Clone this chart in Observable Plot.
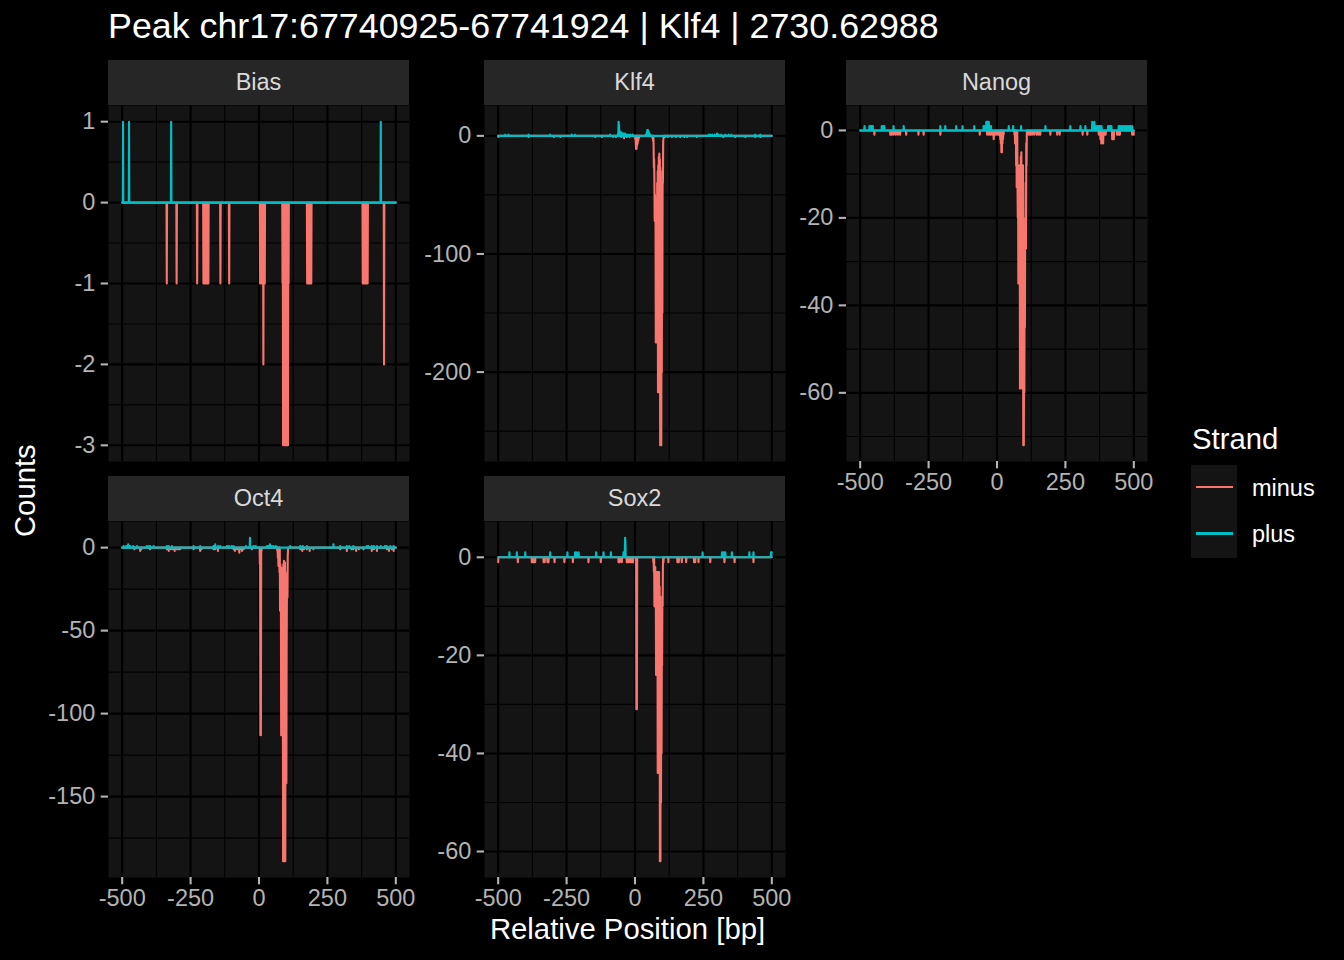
<!DOCTYPE html>
<html>
<head>
<meta charset="utf-8">
<script src="https://cdn.jsdelivr.net/npm/d3@7"></script>
<script src="https://cdn.jsdelivr.net/npm/@observablehq/plot@0.6"></script>
<style>
  html, body { margin: 0; padding: 0; background: #000; }
  #root { position: relative; width: 1344px; height: 960px; background: #000; overflow: hidden;
          font-family: "Liberation Sans", Arial, sans-serif; }
  .abs { position: absolute; white-space: nowrap; }
  .strip { position: absolute; background: #262626; color: #D9D9D9; font-size: 23.5px;
           display: flex; align-items: center; justify-content: center; }
  #root svg { position: absolute; overflow: visible; }
</style>
</head>
<body>
<div id="root"></div>
<script>
// ---------------- data (position in bp relative to peak, count) ----------------
const strands = ["minus", "plus"];
const strandColors = ["#F8766D", "#00BFC4"];
const xTicks = [-500, -250, 0, 250, 500];
const xMinorTicks = [-375, -125, 125, 375];
const bpRange = [-500, 500];

const biasPlus = [[-497,1],[-475,1],[-321,1],[445,1]];
const biasMinus = [[-337,-1],[-301,-1],[-226,-1],[-203,-1],[-200,-1],[-197,-1],[-194,-1],[-191,-1],[-188,-1],[-185,-1],
  [-141,-1],[-109,-1],[4,-1],[7,-1],[10,-1],[13,-1],[16,-2],[19,-1],[21,-1],
  [86,-1],[88,-3],[90,-3],[92,-3],[94,-3],[96,-3],[98,-3],[100,-3],[102,-3],[104,-3],[106,-3],[108,-1],
  [176,-1],[179,-1],[182,-1],[185,-1],[188,-1],[191,-1],
  [379,-1],[382,-1],[385,-1],[388,-1],[391,-1],[394,-1],[397,-1],[457,-2]];
const biasYTicks = [-3, -2, -1, 0, 1];
const biasYMinor = [-2.5, -1.5, -0.5, 0.5];

const klf4Plus = [[-474,1],[-462,1],[-389,1],[-310,1],[-231,1],[-219,1],[-91,1],[-62,2],[-60,12],[-59,9],[-58,7],
  [-56,4],[-54,3],[-52,2],[-50,3],[-48,2],[-45,2],[-42,2],[-39,1],[-36,2],[-32,1],[-28,1],[-22,1],[-16,1],[-8,1],
  [40,1],[43,3],[45,5],[47,5],[49,4],[51,3],[53,2],[56,1],
  [270,1],[276,1],[283,1],[292,1],[300,2],[306,1],[315,1],[330,1],[342,1],[352,1],[439,1],[458,1]];
const klf4Minus = [[-499,-1],[-389,-1],[-296,-1],[-273,-1],[-145,-1],[-121,-1],[-80,-1],[-70,-1],[-50,-1],[-40,-2],[-30,-1],[-20,-1],
  [1,-3],[3,-8],[4,-11],[6,-11],[8,-8],[10,-6],[12,-4],[14,-2],[16,-1],
  [64,-2],[66,-4],[68,-8],[69,-27],[70,-20],[71,-40],[72,-72],[73,-50],[74,-72],[75,-60],[76,-175],[77,-80],[78,-175],
  [79,-60],[80,-150],[81,-40],[82,-175],[83,-30],[84,-217],[85,-25],[86,-200],[87,-18],[88,-217],[89,-15],[90,-180],
  [91,-20],[92,-262],[93,-30],[94,-240],[95,-40],[96,-262],[97,-100],[98,-200],[99,-60],[100,-150],[101,-27],[102,-40],
  [103,-5],[104,-2],
  [110,-1],[120,-1],[135,-1],[150,-1],[165,-1],[180,-1],[190,-1],[226,-1],[323,-1],[366,-1],[403,-1],[439,-1],[458,-1]];
const klf4YTicks = [-200, -100, 0];
const klf4YMinor = [-250, -150, -50];

const nanogPlus = [[-484,1],[-466,1],[-462,1],[-458,1],[-454,1],[-421,1],[-416,1],[-412,1],[-378,1],[-341,1],[-207,1],
  [-189,1],[-149,1],[-126,1],[-83,1],[-49,1],[-45,1],[-42,1],[-39,2],[-36,2],[-33,2],[-30,2],[-27,1],[-24,1],[-22,1],
  [43,1],[59,1],[88,1],[177,1],[268,1],[305,1],[323,1],[348,2],[352,1],[356,2],[360,1],[366,1],[370,1],[374,1],[378,1],
  [382,1],[406,1],[410,1],[414,1],[418,1],[445,1],[449,1],[453,1],[460,1],[465,1],[470,1],[476,1],[482,1],[488,1],[494,1]];
const nanogMinus = [[-448,-1],[-390,-1],[-385,-1],[-378,-1],[-370,-1],[-362,-1],[-354,-1],[-332,-1],[-287,-1],[-268,-1],
  [-207,-1],[-63,-1],[-36,-1],[-30,-1],[-24,-1],[-18,-1],[-12,-2],[-6,-1],[0,-1],[6,-1],
  [12,-2],[14,-3],[16,-5],[18,-5],[20,-3],[22,-2],[24,-1],
  [64,-1],[66,-3],[68,-2],[70,-8],[72,-13],[73,-5],[75,-13],[76,-20],[77,-10],[78,-35],[79,-15],[80,-30],[81,-8],
  [82,-35],[83,-10],[84,-59],[85,-12],[86,-59],[87,-6],[88,-45],[89,-5],[90,-30],[91,-8],[92,-59],[93,-15],[94,-40],
  [95,-8],[96,-72],[97,-40],[98,-72],[99,-50],[100,-60],[101,-30],[102,-45],[103,-20],[104,-27],[105,-12],[106,-27],
  [107,-3],[108,-8],[110,-1],
  [116,-1],[122,-1],[128,-1],[136,-1],[145,-1],[152,-1],[158,-1],[195,-1],[220,-1],[229,-1],[313,-1],[330,-1],
  [372,-1],[378,-2],[381,-3],[385,-2],[388,-3],[392,-1],[397,-1],[421,-2],[424,-2],[427,-2],[439,-1],[444,-1],
  [449,-1],[494,-1],[500,-1]];
const nanogYTicks = [-60, -40, -20, 0];
const nanogYMinor = [-70, -50, -30, -10];

const oct4Plus = [[-495,1],[-485,1],[-478,2],[-471,1],[-460,1],[-446,1],[-410,1],[-402,1],[-398,1],[-385,1],[-337,1],
  [-330,1],[-318,1],[-239,1],[-215,1],[-166,1],[-160,2],[-150,1],[-142,1],[-117,1],[-110,1],[-100,1],[-93,1],[-48,1],
  [-33,6],[-20,1],[-12,1],[29,1],[35,1],[40,2],[46,1],[53,1],[62,1],[114,1],[151,1],[160,1],[175,1],[272,2],[297,1],
  [321,1],[330,1],[345,1],[394,1],[400,1],[412,1],[420,1],[431,1],[445,1],[460,1],[467,1],[480,1],[492,1]];
const oct4Minus = [[-455,-1],[-434,-2],[-430,-1],[-398,-1],[-337,-1],[-330,-2],[-322,-1],[-315,-1],[-308,-2],[-300,-1],
  [-294,-1],[-288,-1],[-239,-1],[-215,-2],[-210,-1],[-166,-1],[-160,-1],[-150,-2],[-93,-1],[-88,-2],[-80,-1],[-72,-3],
  [-69,-1],[-62,-2],[-56,-1],[-26,-1],
  [3,-10],[5,-113],[6,-113],[7,-113],[9,-2],
  [67,-2],[69,-6],[71,-11],[73,-8],[75,-15],[77,-38],[78,-10],[79,-38],[80,-12],[81,-113],[82,-20],[83,-113],[84,-30],
  [85,-113],[86,-12],[87,-60],[88,-189],[89,-10],[90,-150],[91,-8],[92,-189],[93,-12],[94,-160],[95,-9],[96,-189],
  [97,-40],[98,-142],[99,-30],[100,-142],[101,-60],[102,-30],[103,-15],[104,-30],[105,-5],[106,-2],
  [151,-1],[158,-2],[165,-1],[175,-1],[185,-2],[199,-1],[297,-1],[321,-2],[338,-1],[345,-1],[355,-2],[365,-1],
  [382,-1],[412,-2],[420,-1],[431,-2],[467,-1],[475,-2],[485,-1],[492,-2]];
const oct4YTicks = [-150, -100, -50, 0];
const oct4YMinor = [-175, -125, -75, -25];

const sox2Plus = [[-459,1],[-432,1],[-401,1],[-310,1],[-247,1],[-219,1],[-214,1],[-206,1],[-142,1],[-115,1],[-88,1],
  [-42,1],[-37,2],[-36,4],[-35,3],[247,1],[318,1],[322,1],[326,1],[330,1],[354,1],[418,1],[433,1],[497,1],[499,1],[500,1]];
const sox2Minus = [[-500,-1],[-428,-1],[-377,-1],[-373,-1],[-369,-1],[-365,-1],[-334,-1],[-330,-1],[-320,-1],[-316,-1],
  [-294,-1],[-258,-1],[-227,-1],[-170,-1],[-125,-1],[-60,-1],[-56,-1],[-48,-1],[-30,-1],[-26,-1],[-22,-1],[-15,-1],
  [-11,-1],[-7,-1],
  [5,-31],[6,-31],[7,-31],
  [67,-1],[69,-3],[71,-10],[72,-3],[73,-8],[74,-2],[75,-10],[76,-4],[77,-24],[78,-4],[79,-24],[80,-3],[81,-15],[82,-3],
  [83,-44],[84,-5],[85,-44],[86,-3],[87,-30],[88,-3],[89,-44],[90,-6],[91,-62],[92,-8],[93,-62],[94,-15],[95,-50],
  [96,-20],[97,-40],[98,-20],[99,-22],[100,-8],[101,-10],[102,-2],[104,-1],
  [122,-1],[155,-1],[160,-1],[171,-1],[187,-1],[216,-1],[220,-1],[232,-1],[275,-1],[327,-1],[364,-1],[433,-1]];
const sox2YTicks = [-60, -40, -20, 0];
const sox2YMinor = [-50, -30, -10];

// ---------------- layout ----------------
const PW = 301, PH = 356, ML = 75, MR = 18, MB = 45;
const panels = [
  {name: "Bias",  plus: biasPlus,  minus: biasMinus,  yTicks: biasYTicks,  yMinor: biasYMinor,  left: 108, top: 105, xAxis: false},
  {name: "Klf4",  plus: klf4Plus,  minus: klf4Minus,  yTicks: klf4YTicks,  yMinor: klf4YMinor,  left: 484, top: 105, xAxis: false},
  {name: "Nanog", plus: nanogPlus, minus: nanogMinus, yTicks: nanogYTicks, yMinor: nanogYMinor, left: 846, top: 105, xAxis: true},
  {name: "Oct4",  plus: oct4Plus,  minus: oct4Minus,  yTicks: oct4YTicks,  yMinor: oct4YMinor,  left: 108, top: 521, xAxis: true},
  {name: "Sox2",  plus: sox2Plus,  minus: sox2Minus,  yTicks: sox2YTicks,  yMinor: sox2YMinor,  left: 484, top: 521, xAxis: true}
];

const root = document.getElementById("root");
const fmt = d => String(d);

function expand(pairs, strand) {
  const m = new Map(pairs);
  return d3.range(bpRange[0], bpRange[1] + 1).map(pos => ({pos, value: m.has(pos) ? m.get(pos) : 0, strand}));
}

for (const p of panels) {
  const rows = [...expand(p.minus, "minus"), ...expand(p.plus, "plus")];
  const [ylo, yhi] = d3.extent(rows, d => d.value);
  const ypad = (yhi - ylo) * 0.05;
  const [xlo, xhi] = d3.extent(rows, d => d.pos);
  const xpad = (xhi - xlo) * 0.05;
  const gridStyle = {stroke: "#000", strokeOpacity: 1};
  const marks = [
    Plot.frame({fill: "#141414", stroke: "none"}),
    Plot.gridX(xMinorTicks, {...gridStyle, strokeWidth: 1.1}),
    Plot.gridY(p.yMinor, {...gridStyle, strokeWidth: 1.1}),
    Plot.gridX(xTicks, {...gridStyle, strokeWidth: 2.1}),
    Plot.gridY(p.yTicks, {...gridStyle, strokeWidth: 2.1}),
    Plot.line(rows, {x: "pos", y: "value", z: "strand", stroke: "strand", strokeWidth: 2.1}),
    Plot.axisY(p.yTicks, {tickSize: 7.3, tickPadding: 5.9, tickFormat: fmt, strokeWidth: 2.1, fontSize: 23.5, label: null})
  ];
  if (p.xAxis) {
    marks.push(Plot.axisX(xTicks, {tickSize: 7.3, tickPadding: 5, tickFormat: fmt, strokeWidth: 2.1, fontSize: 23.5, label: null}));
  }
  const svg = Plot.plot({
    width: ML + PW + MR, height: PH + MB,
    marginLeft: ML, marginRight: MR, marginTop: 0, marginBottom: MB,
    x: {domain: [xlo - xpad, xhi + xpad], axis: null},
    y: {domain: [ylo - ypad, yhi + ypad], axis: null},
    color: {domain: strands, range: strandColors},
    style: {background: "transparent", color: "#B3B3B3", fontFamily: "'Liberation Sans', Arial, sans-serif", fontSize: "23.5px"},
    marks
  });
  svg.style.left = (p.left - ML) + "px";
  svg.style.top = p.top + "px";
  root.appendChild(svg);

  const strip = document.createElement("div");
  strip.className = "strip";
  strip.style.left = p.left + "px";
  strip.style.top = (p.top - 45) + "px";
  strip.style.width = PW + "px";
  strip.style.height = "45px";
  strip.textContent = p.name;
  root.appendChild(strip);
}

function addText(txt, left, top, size, color, extra) {
  const d = document.createElement("div");
  d.className = "abs";
  d.textContent = txt;
  d.style.left = left + "px";
  d.style.top = top + "px";
  d.style.fontSize = size + "px";
  d.style.lineHeight = size + "px";
  d.style.color = color;
  if (extra) Object.assign(d.style, extra);
  root.appendChild(d);
  return d;
}

// title
addText("Peak chr17:67740925-67741924 | Klf4 | 2730.62988", 108, 9, 35.8, "#FFFFFF");
// x axis title
addText("Relative Position [bp]", 327.5, 914, 29.3, "#FFFFFF", {width: "600px", textAlign: "center"});
// y axis title
addText("Counts", 25 - 100, 491 - 14.65, 29.3, "#FFFFFF", {width: "200px", height: "29.3px", textAlign: "center", transform: "rotate(-90deg)", transformOrigin: "50% 50%"});

// legend
addText("Strand", 1192, 423.5, 29.3, "#FFFFFF");
const keyBox = document.createElement("div");
Object.assign(keyBox.style, {position: "absolute", left: "1191px", top: "465px", width: "46px", height: "92.5px", background: "#141414"});
root.appendChild(keyBox);
strands.forEach((s, i) => {
  const ln = document.createElement("div");
  Object.assign(ln.style, {position: "absolute", left: "1196px", top: (487 + i * 46.5 - 1.2) + "px", width: "37px", height: "2.6px", background: strandColors[i]});
  root.appendChild(ln);
  addText(s, 1252, (476.8 + i * 46.5), 23.5, "#FFFFFF");
});
</script>
</body>
</html>
